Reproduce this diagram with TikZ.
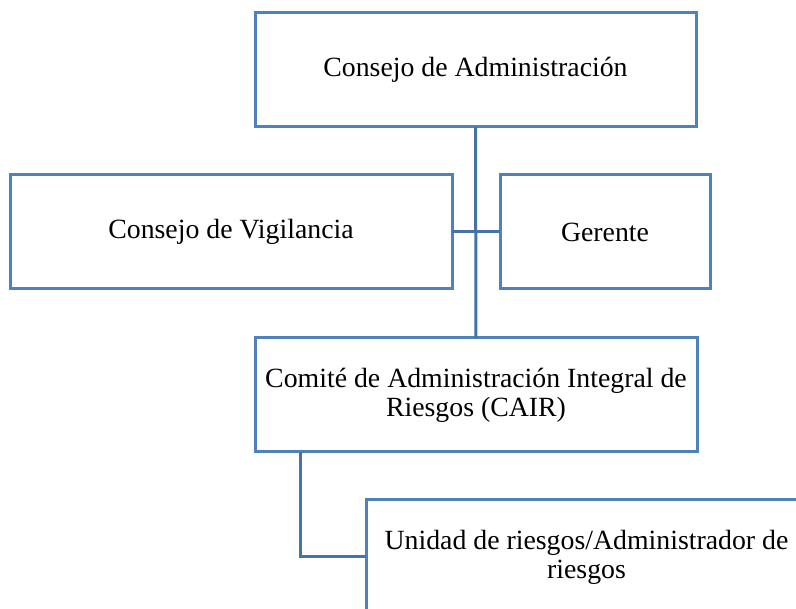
\documentclass[tikz,border=0pt]{standalone}
\usepackage{fontspec}
\setmainfont{Liberation Serif}
\definecolor{boxblue}{RGB}{79,129,189}
\definecolor{linkblue}{RGB}{69,114,167}
\begin{document}
\begin{tikzpicture}[x=1pt,y=-1pt,
  orgbox/.style={draw=boxblue, line width=3pt, fill=white, inner sep=0pt, outer sep=0pt,
    minimum height=114pt, align=center, font=\fontsize{27.8}{29}\selectfont},
  link/.style={draw=linkblue, line width=3pt}]
\useasboundingbox (0,0) rectangle (796,609);
\clip (0,0) rectangle (796,609);
\node[orgbox, minimum width=441pt] (consejo) at (475.5,70) {Consejo de Administración};
\node[orgbox, minimum width=442pt] (vigil) at (231,232) {Consejo de Vigilancia};
\node[orgbox, minimum width=210pt] (gerente) at (605,232) {Gerente};
\node[orgbox, minimum width=442pt] (cair) at (476,395) {Comité de Administración Integral de\\Riesgos (CAIR)};
\node[orgbox, minimum width=441pt] (unidad) at (586.5,557) {Unidad de riesgos/Administrador de\\riesgos};
\coordinate (drop) at (300,452);
\draw[link] (consejo.south) -- (cair.north);
\draw[link] (vigil.east) -- (gerente.west);
\draw[link] (drop) |- (unidad.west);
\end{tikzpicture}
\end{document}
